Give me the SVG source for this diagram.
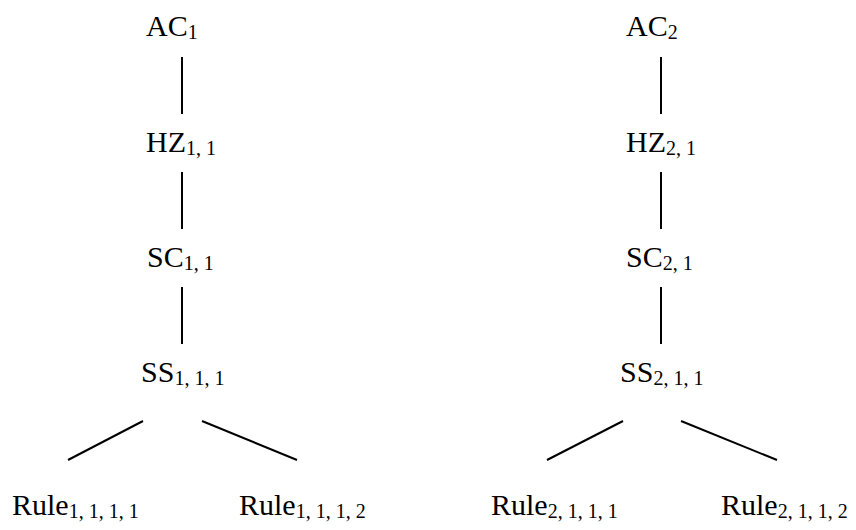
<svg xmlns="http://www.w3.org/2000/svg" width="856" height="530" viewBox="0 0 856 530">
<style>
text{font-family:"Liberation Serif","Times New Roman",serif;font-size:30px;fill:#000}
.s{font-size:20px}
line{stroke:#000;stroke-width:2}
</style>
<rect width="856" height="530" fill="#fff"/>
<g id="connectors">
<line x1="182" y1="57" x2="182" y2="114"/>
<line x1="182" y1="172" x2="182" y2="229"/>
<line x1="182" y1="287" x2="182" y2="344"/>
<line x1="68" y1="460" x2="143" y2="421"/>
<line x1="202" y1="421" x2="297" y2="460"/>
<line x1="661" y1="57" x2="661" y2="114"/>
<line x1="661" y1="172" x2="661" y2="229"/>
<line x1="661" y1="287" x2="661" y2="344"/>
<line x1="547" y1="460" x2="623" y2="421"/>
<line x1="681" y1="421" x2="777" y2="460"/>
</g>
<g id="AC1"><text x="146" y="36">AC<tspan class="s" dy="3">1</tspan></text></g>
<g id="HZ11"><text x="146" y="152">HZ<tspan class="s" dy="3">1, 1</tspan></text></g>
<g id="SC11"><text x="147" y="267">SC<tspan class="s" dy="3">1, 1</tspan></text></g>
<g id="SS111"><text x="141" y="382">SS<tspan class="s" dy="3">1, 1, 1</tspan></text></g>
<g id="Rule1111"><text x="12" y="515">Rule<tspan class="s" dy="3">1, 1, 1, 1</tspan></text></g>
<g id="Rule1112"><text x="239" y="515">Rule<tspan class="s" dy="3">1, 1, 1, 2</tspan></text></g>
<g id="AC2"><text x="626" y="36">AC<tspan class="s" dy="3">2</tspan></text></g>
<g id="HZ21"><text x="626" y="152">HZ<tspan class="s" dy="3">2, 1</tspan></text></g>
<g id="SC21"><text x="626" y="267">SC<tspan class="s" dy="3">2, 1</tspan></text></g>
<g id="SS211"><text x="620" y="382">SS<tspan class="s" dy="3">2, 1, 1</tspan></text></g>
<g id="Rule2111"><text x="491" y="515">Rule<tspan class="s" dy="3">2, 1, 1, 1</tspan></text></g>
<g id="Rule2112"><text x="721" y="515">Rule<tspan class="s" dy="3">2, 1, 1, 2</tspan></text></g>
</svg>
